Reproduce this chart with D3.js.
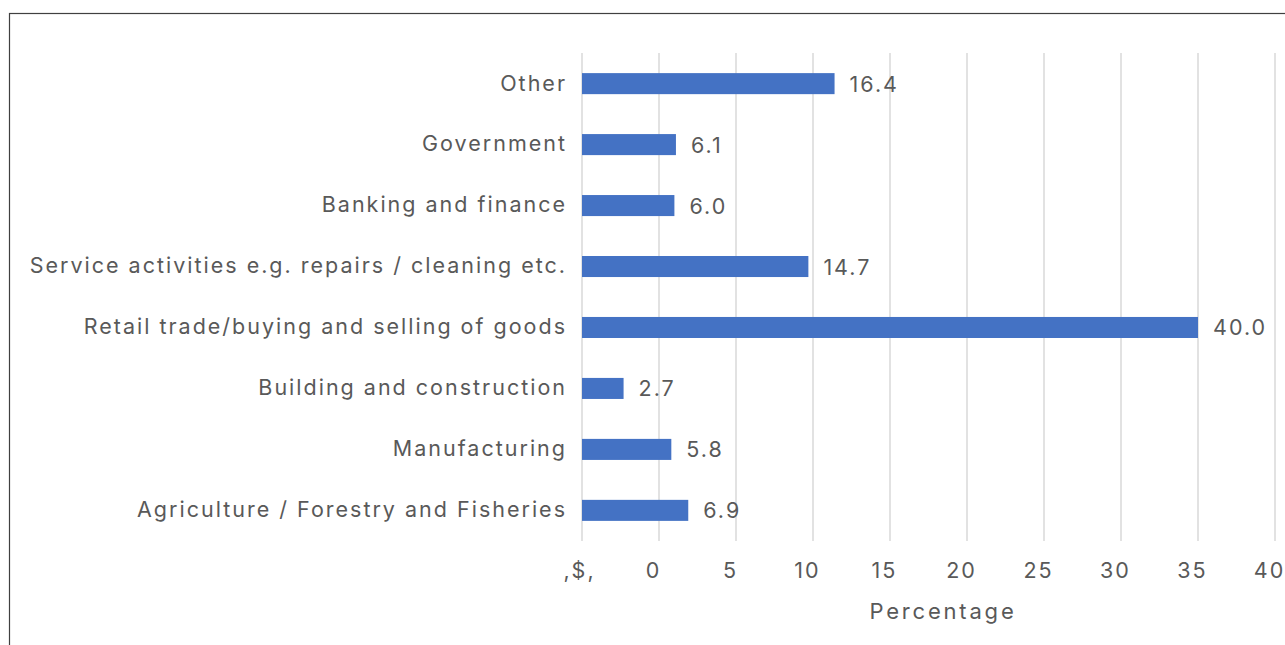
<!DOCTYPE html>
<html>
<head>
<meta charset="utf-8">
<script src="https://cdn.jsdelivr.net/npm/d3@7"></script>
<style>
  html, body { margin: 0; padding: 0; background: #ffffff; }
  svg { display: block; }
  text { font-family: Inter, sans-serif; fill: #595959; }
</style>
</head>
<body>
<svg id="chart" width="1285" height="645"></svg>
<script>
// Sector shares (%), listed top to bottom
const categories = [
  "Other",
  "Government",
  "Banking and finance",
  "Service activities e.g. repairs / cleaning etc.",
  "Retail trade/buying and selling of goods",
  "Building and construction",
  "Manufacturing",
  "Agriculture / Forestry and Fisheries"
];
const values = [16.4, 6.1, 6.0, 14.7, 40.0, 2.7, 5.8, 6.9];

// Axis tick values and the labels printed under them
const tickValues = [0, 5, 10, 15, 20, 25, 30, 35, 40, 45];
const tickLabels = [",$,", "0", "5", "10", "15", "20", "25", "30", "35", "40"];
const axisTitle = "Percentage";

const svg = d3.select("#chart");
const fontSize = 21.5;
const tracking = 2;
const fontFamily = "Inter, sans-serif";

// Outer frame
svg.append("rect")
  .attr("x", 9.5).attr("y", 13.5)
  .attr("width", 1400).attr("height", 700)
  .attr("fill", "none")
  .attr("stroke", "#404040")
  .attr("stroke-width", 1.2);

const plot = { left: 582, right: 1275, top: 53, bottom: 541 };

const x = d3.scaleLinear()
  .domain([0, 45])
  .range([plot.left, plot.right]);

const y = d3.scaleBand()
  .domain(categories)
  .range([plot.top, plot.bottom])
  .paddingInner(0.655)
  .paddingOuter(0.33);

// Vertical gridlines
svg.append("g")
  .selectAll("line")
  .data(tickValues)
  .join("line")
  .attr("x1", d => x(d)).attr("x2", d => x(d))
  .attr("y1", plot.top).attr("y2", plot.bottom)
  .attr("stroke", "#d9d9d9")
  .attr("stroke-width", 1.5);

// Bars
svg.append("g")
  .selectAll("rect")
  .data(values)
  .join("rect")
  .attr("x", x(0))
  .attr("y", (d, i) => y(categories[i]))
  .attr("width", d => x(d) - x(0))
  .attr("height", y.bandwidth())
  .attr("fill", "#4472c4");

// Value labels
svg.append("g")
  .selectAll("text")
  .data(values)
  .join("text")
  .attr("x", d => x(d) + 15)
  .attr("y", (d, i) => y(categories[i]) + y.bandwidth() / 2)
  .attr("dominant-baseline", "central")
  .style("font-size", fontSize + "px")
  .style("letter-spacing", tracking + "px")
  .text(d => d.toFixed(1));

// Category labels
const yAxis = d3.axisLeft(y).tickSize(0).tickPadding(15);
const gy = svg.append("g")
  .attr("transform", `translate(${plot.left},0)`)
  .call(yAxis);
gy.select(".domain").remove();
gy.selectAll("text")
  .style("font-size", fontSize + "px")
  .style("font-family", fontFamily)
  .style("letter-spacing", tracking + "px")
  .attr("fill", "#595959");

// Bottom axis labels
const xAxis = d3.axisBottom(x)
  .tickValues(tickValues)
  .tickSize(0)
  .tickPadding(22)
  .tickFormat((d, i) => tickLabels[i]);
const gx = svg.append("g")
  .attr("transform", `translate(0,${plot.bottom})`)
  .call(xAxis);
gx.select(".domain").remove();
gx.selectAll("text")
  .style("font-size", fontSize + "px")
  .style("font-family", fontFamily)
  .style("letter-spacing", tracking + "px")
  .attr("fill", "#595959")
  .attr("dx", (d, i) => i === 0 ? -3 : -6);

// Axis title
svg.append("text")
  .attr("x", 943)
  .attr("y", 611)
  .attr("text-anchor", "middle")
  .attr("dominant-baseline", "central")
  .style("font-size", "22px")
  .style("letter-spacing", "2.8px")
  .text(axisTitle);
</script>
</body>
</html>
